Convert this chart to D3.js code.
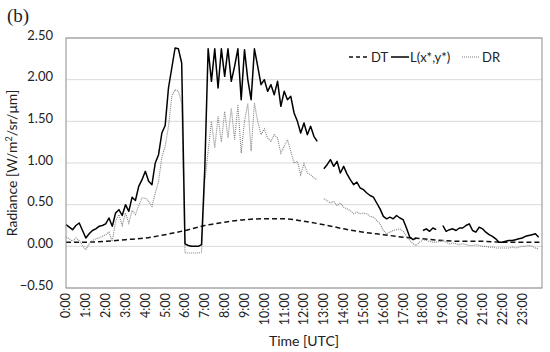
<!DOCTYPE html>
<html>
<head>
<meta charset="utf-8">
<title>Radiance</title>
<style>
  body { margin: 0; background: #fff; }
  text { font-family: Lato, "Open Sans", sans-serif; fill: #222; }
</style>
</head>
<body>
<script src="https://d3js.org/d3.v7.min.js"></script>
<script>

var width = 550,
    height = 352,
    plotLeft = 66, plotRight = 542, plotTop = 38, plotBottom = 288;

// 10 minute samples, 0:00 .. 23:50 (null = no data)
var lValues = [
  0.26, 0.23, 0.20, 0.25, 0.28, 0.19,
  0.10, 0.15, 0.19, 0.21, 0.24, 0.25,
  0.27, 0.34, 0.24, 0.40, 0.44, 0.37,
  0.50, 0.42, 0.59, 0.55, 0.72, 0.80,
  0.90, 0.78, 0.74, 1.00, 1.10, 1.36,
  1.45, 1.90, 2.14, 2.38, 2.37, 2.20,
  0.03, 0.01, 0.00, 0.00, 0.00, 0.02,
  0.95, 2.37, 1.98, 2.37, 1.90, 2.37,
  2.04, 2.37, 1.98, 2.16, 2.37, 1.76,
  2.36, 2.00, 1.76, 2.37, 2.16, 1.94,
  2.00, 1.86, 1.94, 1.82, 1.98, 1.68,
  1.86, 1.76, 1.80, 1.60, 1.50, 1.36,
  1.48, 1.34, 1.44, 1.32, 1.26, null,
  0.93, 0.98, 1.04, 0.96, 1.02, 0.88,
  0.96, 0.87, 0.80, 0.74, 0.77, 0.70,
  0.68, 0.64, 0.61, 0.59, 0.52, 0.45,
  0.36, 0.33, 0.35, 0.33, 0.37, 0.34,
  0.32, 0.22, 0.11, 0.08, 0.10, null,
  0.19, 0.21, 0.18, 0.22, 0.20, null,
  0.25, 0.18, 0.20, 0.21, 0.19, 0.22,
  0.22, 0.25, 0.27, 0.19, 0.17, 0.23,
  0.21, 0.17, 0.14, 0.12, 0.09, 0.05,
  0.05, 0.06, 0.07, 0.07, 0.08, 0.09,
  0.10, 0.12, 0.13, 0.14, 0.15, 0.11
];

var drValues = [
  0.11, 0.09, 0.06, 0.10, 0.07, 0.01,
  -0.04, 0.03, 0.07, 0.09, 0.10, 0.12,
  0.14, 0.17, 0.06, 0.30, 0.38, 0.25,
  0.40, 0.28, 0.43, 0.38, 0.49, 0.58,
  0.58, 0.54, 0.48, 0.64, 0.78, 1.07,
  1.20, 1.44, 1.80, 1.88, 1.86, 1.72,
  -0.08, -0.08, -0.08, -0.08, -0.08, -0.07,
  0.78, 1.14, 1.50, 1.18, 1.56, 1.25,
  1.62, 1.30, 1.66, 1.28, 1.70, 1.12,
  1.50, 1.72, 1.14, 1.72, 1.50, 1.34,
  1.41, 1.30, 1.26, 1.34, 1.30, 1.12,
  1.20, 1.28, 1.14, 1.00, 1.02, 0.86,
  0.99, 0.88, 0.86, 0.82, 0.80, null,
  0.57, 0.55, 0.52, 0.54, 0.49, 0.52,
  0.47, 0.45, 0.43, 0.39, 0.41, 0.39,
  0.40, 0.39, 0.36, 0.35, 0.31, 0.27,
  0.19, 0.15, 0.17, 0.19, 0.20, 0.21,
  0.18, 0.12, 0.07, 0.03, 0.01, 0.05,
  0.08, 0.07, 0.06, 0.05, 0.05, 0.06,
  0.07, 0.05, 0.03, 0.04, 0.03, 0.02,
  0.03, 0.02, 0.01, 0.01, 0.02, 0.01,
  0.00, 0.00, -0.01, -0.01, -0.02, -0.02,
  -0.02, -0.02, -0.02, -0.01, -0.02, -0.01,
  0.00, 0.00, 0.01, 0.00, -0.02, -0.03
];

// DT is smooth, read once per hour
var dtHours = [0, 1, 2, 3, 4, 5, 6, 7, 8, 9, 10, 11, 12, 13, 14, 15, 16, 17, 18, 19, 20, 21, 22, 23, 23.9];
var dtValues = [0.05, 0.05, 0.06, 0.08, 0.10, 0.14, 0.19, 0.25, 0.29, 0.32, 0.33, 0.33, 0.30, 0.26, 0.21, 0.17, 0.14, 0.11, 0.09, 0.07, 0.06, 0.06, 0.05, 0.05, 0.05];

var hourTicks = d3.range(0, 24);
var yTicks = [-0.5, 0, 0.5, 1.0, 1.5, 2.0, 2.5];

var x = d3.scaleLinear().domain([0, 24]).range([plotLeft, plotRight]);
var y = d3.scaleLinear().domain([-0.5, 2.5]).range([plotBottom, plotTop]);

var svg = d3.select("body").append("svg")
    .attr("width", width)
    .attr("height", height);

// grid
svg.append("g").selectAll("line")
    .data(yTicks)
    .enter().append("line")
    .attr("x1", plotLeft).attr("x2", plotRight)
    .attr("y1", function(d) { return y(d); })
    .attr("y2", function(d) { return y(d); })
    .attr("stroke", "#d9d9d9")
    .attr("stroke-width", 1);

// y labels
svg.append("g").selectAll("text")
    .data(yTicks)
    .enter().append("text")
    .attr("x", 53)
    .attr("y", function(d) { return y(d) - 3; })
    .attr("dy", "0.35em")
    .attr("text-anchor", "end")
    .style("font-size", "13px")
    .text(function(d) { return d3.format(".2f")(d); });

// x labels (rotated)
svg.append("g").selectAll("text")
    .data(hourTicks)
    .enter().append("text")
    .attr("transform", function(d) { return "translate(" + x(d) + ",293) rotate(-90)"; })
    .attr("dy", "0.35em")
    .attr("text-anchor", "end")
    .style("font-size", "12.5px")
    .text(function(d) { return d + ":00"; });

// series
var pts = function(vals) {
  return vals.map(function(v, i) { return { h: i / 6, v: v }; });
};

var line = d3.line()
    .defined(function(d) { return d.v !== null; })
    .x(function(d) { return x(d.h); })
    .y(function(d) { return y(d.v); });

svg.append("path")
    .datum(dtHours.map(function(h, i) { return { h: h, v: dtValues[i] }; }))
    .attr("fill", "none")
    .attr("stroke", "#111")
    .attr("stroke-width", 1.5)
    .attr("stroke-dasharray", "5,3")
    .attr("d", line.curve(d3.curveMonotoneX));

line.curve(d3.curveLinear);

svg.append("path")
    .datum(pts(drValues))
    .attr("fill", "none")
    .attr("stroke", "#808080")
    .attr("stroke-width", 1.1)
    .attr("stroke-dasharray", "1,1")
    .attr("d", line);

svg.append("path")
    .datum(pts(lValues))
    .attr("fill", "none")
    .attr("stroke", "#000")
    .attr("stroke-width", 1.5)
    .attr("stroke-linejoin", "round")
    .attr("d", line);

// plot frame
svg.append("rect")
    .attr("x", plotLeft).attr("y", plotTop)
    .attr("width", plotRight - plotLeft).attr("height", plotBottom - plotTop)
    .attr("fill", "none")
    .attr("stroke", "#8c8c8c")
    .attr("stroke-width", 1);

// legend
var lg = svg.append("g").attr("transform", "translate(0,57)");
lg.append("line").attr("x1", 349).attr("x2", 370).attr("stroke", "#111")
    .attr("stroke-width", 1.5).attr("stroke-dasharray", "4,3");
lg.append("text").attr("x", 371).attr("dy", "0.35em").style("font-size", "13px").text("DT");
lg.append("line").attr("x1", 391).attr("x2", 409).attr("stroke", "#000").attr("stroke-width", 1.5);
lg.append("text").attr("x", 410).attr("dy", "0.35em").style("font-size", "13px").text("L(x*,y*)");
lg.append("line").attr("x1", 462).attr("x2", 479).attr("stroke", "#808080")
    .attr("stroke-width", 1.1).attr("stroke-dasharray", "1,1");
lg.append("text").attr("x", 482).attr("dy", "0.35em").style("font-size", "13px").text("DR");

// axis titles
svg.append("text")
    .attr("x", (plotLeft + plotRight) / 2)
    .attr("y", 346)
    .attr("text-anchor", "middle")
    .style("font-size", "14px")
    .text("Time [UTC]");

svg.append("text")
    .attr("transform", "translate(17," + ((plotTop + plotBottom) / 2) + ") rotate(-90)")
    .attr("text-anchor", "middle")
    .style("font-size", "14px")
    .html("Radiance [W/m<tspan dy='-5' style='font-size:9px'>2</tspan><tspan dy='5'>/sr/μm]</tspan>");

svg.append("text")
    .attr("x", 7)
    .attr("y", 22)
    .style("font-family", "'Liberation Serif', serif")
    .style("font-size", "19px")
    .text("(b)");

</script>
</body>
</html>
